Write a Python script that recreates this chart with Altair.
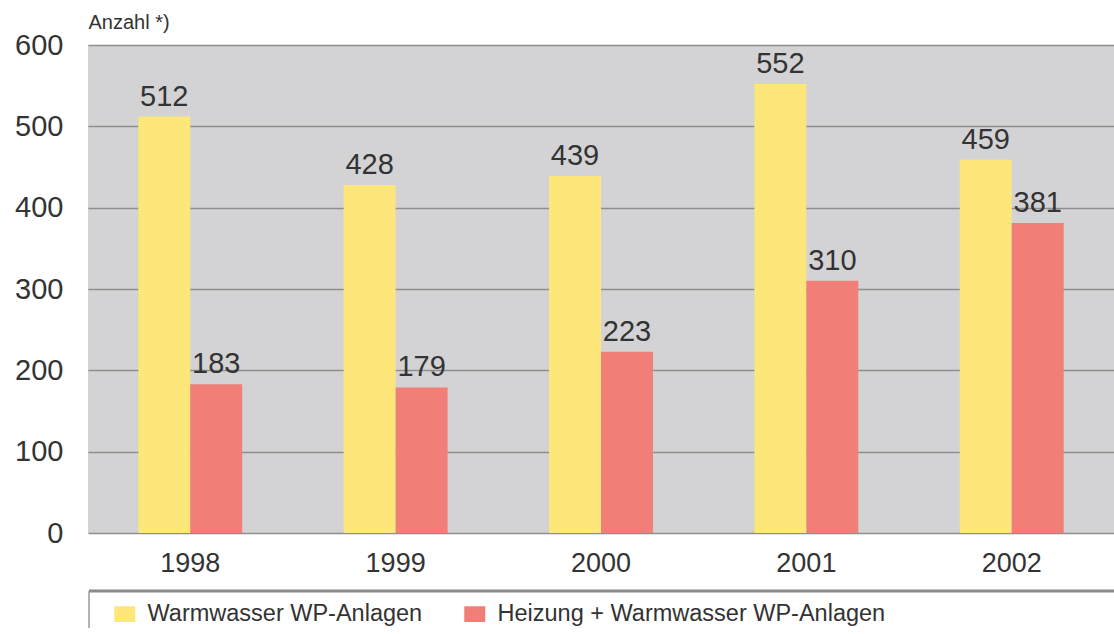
import altair as alt
import pandas as pd

years = ["1998", "1999", "2000", "2001", "2002"]
series_names = ["Warmwasser WP-Anlagen", "Heizung + Warmwasser WP-Anlagen"]
warmwasser = [512, 428, 439, 552, 459]
heizung = [183, 179, 223, 310, 381]
colors = ["#fde67a", "#f17f77"]

rows = []
for i, y in enumerate(years):
    rows.append({"Jahr": y, "Serie": series_names[0], "Anzahl": warmwasser[i]})
    rows.append({"Jahr": y, "Serie": series_names[1], "Anzahl": heizung[i]})
df = pd.DataFrame(rows)

FONT = "Liberation Sans"
TXT = "#333333"

x_enc = alt.X(
    "Jahr:N",
    sort=years,
    scale=alt.Scale(paddingInner=0.494, paddingOuter=0.245),
    axis=alt.Axis(
        title=None, labelAngle=0, labelFontSize=27, labelColor=TXT,
        labelPadding=17, ticks=False, domain=False, labelFont=FONT,
    ),
)
y_enc = alt.Y(
    "Anzahl:Q",
    scale=alt.Scale(domain=[0, 600], nice=False),
    axis=alt.Axis(
        values=[0, 100, 200, 300, 400, 500, 600],
        title="Anzahl *)", titleAngle=0, titleAlign="left", titleX=0, titleY=-23,
        titleBaseline="middle", titleFontSize=20, titleFontWeight="normal",
        titleColor=TXT, titleFont=FONT,
        labelFontSize=29, labelColor=TXT, labelPadding=25, labelFont=FONT,
        ticks=False, domain=False, gridColor="#8e8e8e", gridWidth=1.3,
    ),
)
xoff = alt.XOffset("Serie:N", sort=series_names)
color_enc = alt.Color(
    "Serie:N",
    sort=series_names,
    scale=alt.Scale(domain=series_names, range=colors),
    legend=alt.Legend(
        title=None, orient="none", direction="horizontal", legendX=25, legendY=557,
        symbolType="M-1.2,-0.9H1.2V0.9H-1.2Z", symbolSize=306, symbolStrokeWidth=0,
        labelFontSize=23.5, labelColor=TXT, labelFont=FONT, labelLimit=0,
        columnPadding=40, labelOffset=11, padding=0,
    ),
)

one = pd.DataFrame({"f": [0]})
frame_top = alt.Chart(one).mark_rule(color="#8a8a8a", strokeWidth=3).encode(
    x=alt.value(1), x2=alt.value(1040), y=alt.value(546)
)
frame_left = alt.Chart(one).mark_rule(color="#9a9a9a", strokeWidth=1.5).encode(
    x=alt.value(1), y=alt.value(546), y2=alt.value(600)
)

bars = alt.Chart(df).mark_bar().encode(
    x=x_enc, xOffset=xoff, y=y_enc, color=color_enc
)
labels = alt.Chart(df).mark_text(
    baseline="alphabetic", dy=-11, fontSize=29, color=TXT, font=FONT
).encode(
    x=alt.X("Jahr:N", sort=years), xOffset=xoff, y="Anzahl:Q", text="Anzahl:Q"
)

chart = alt.layer(bars, labels, frame_top, frame_left).properties(
    width=1026, height=488,
    autosize=alt.AutoSizeParams(type="none"),
    padding={"left": 88, "top": 45, "right": 0, "bottom": 95},
).configure(
    background="white"
).configure_view(
    fill="#d3d3d5", stroke=None
)

chart.save("out.html", embed_options={"renderer": "svg", "actions": False})
